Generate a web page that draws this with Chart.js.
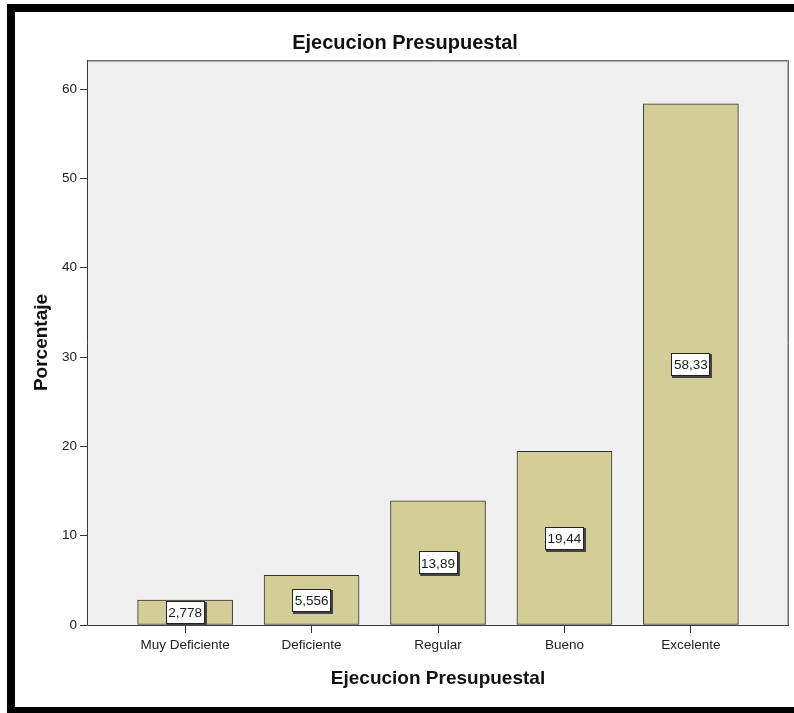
<!DOCTYPE html>
<html>
<head>
<meta charset="utf-8">
<script src="https://cdn.jsdelivr.net/npm/chart.js@4.4.1/dist/chart.umd.min.js"></script>
<style>
  html, body { margin: 0; padding: 0; background: #ffffff; }
  canvas { display: block; }
</style>
</head>
<body>
<canvas id="chart" width="794" height="713"></canvas>
<script>
// Ejecucion Presupuestal – distribution in percent
const categories = ['Muy Deficiente', 'Deficiente', 'Regular', 'Bueno', 'Excelente'];
const percentages = [2.778, 5.556, 13.89, 19.44, 58.33];
const yTicks = [0, 10, 20, 30, 40, 50, 60];

const FONT = '"Liberation Sans", Arial, sans-serif';
const chartTitle = 'Ejecucion Presupuestal';

// Plot background, outer frame and heading
const framePlugin = {
  id: 'frame',
  beforeDraw(chart) {
    const { ctx, chartArea: a } = chart;
    ctx.save();
    ctx.fillStyle = '#f0f0f0';
    ctx.fillRect(a.left, a.top, a.right - a.left, a.bottom - a.top);
    ctx.restore();
  },
  afterDatasetsDraw(chart) {
    const { ctx, chartArea: a } = chart;
    ctx.save();
    ctx.strokeStyle = '#6e6e6e';
    ctx.lineWidth = 1;
    ctx.beginPath();
    ctx.moveTo(a.left + 0.5, a.top + 0.5);
    ctx.lineTo(a.right - 0.5, a.top + 0.5);
    ctx.lineTo(a.right - 0.5, a.bottom);
    ctx.stroke();
    ctx.strokeStyle = '#b4b4b4';
    ctx.beginPath();
    ctx.moveTo(a.left + 1, a.top + 1.5);
    ctx.lineTo(a.right - 1.5, a.top + 1.5);
    ctx.lineTo(a.right - 1.5, a.bottom);
    ctx.stroke();
    ctx.strokeStyle = '#3a3a3a';
    ctx.beginPath();
    ctx.moveTo(a.left + 0.5, a.top);
    ctx.lineTo(a.left + 0.5, a.bottom + 0.5);
    ctx.lineTo(a.right, a.bottom + 0.5);
    ctx.stroke();
    ctx.restore();
  },
  afterDraw(chart) {
    const { ctx } = chart;
    ctx.save();
    ctx.fillStyle = '#111111';
    ctx.font = 'bold 20px ' + FONT;
    ctx.textAlign = 'center';
    ctx.textBaseline = 'middle';
    ctx.fillText(chartTitle, 405, 43);
    // heavy black border round the figure
    ctx.fillStyle = '#000000';
    ctx.fillRect(7, 4, 787, 8);
    ctx.fillRect(7, 4, 8, 709);
    ctx.fillRect(7, 707, 787, 6);
    ctx.restore();
  }
};

// Value boxes in the middle of each bar
const valueBoxPlugin = {
  id: 'valueBoxes',
  afterDatasetsDraw(chart) {
    const { ctx } = chart;
    const meta = chart.getDatasetMeta(0);
    const yScale = chart.scales.y;
    ctx.save();
    ctx.font = '13.5px ' + FONT;
    ctx.textAlign = 'center';
    ctx.textBaseline = 'middle';
    meta.data.forEach((bar, i) => {
      const v = percentages[i];
      const text = String(v).replace('.', ',');
      const cx = bar.x;
      const cy = (yScale.getPixelForValue(v) + yScale.getPixelForValue(0)) / 2;
      const w = Math.round(ctx.measureText(text).width + 5);
      const h = 23;
      const x0 = Math.round(cx - w / 2);
      const y0 = Math.round(cy - h / 2);
      ctx.fillStyle = '#444444';
      ctx.fillRect(x0 + 1, y0 + 1, w + 1, h + 1);
      ctx.fillStyle = '#ffffff';
      ctx.fillRect(x0, y0, w, h);
      ctx.strokeStyle = '#222222';
      ctx.lineWidth = 1;
      ctx.strokeRect(x0 + 0.5, y0 + 0.5, w - 1, h - 1);
      ctx.fillStyle = '#1a1a1a';
      ctx.fillText(text, cx, cy + 1);
    });
    ctx.restore();
  }
};

new Chart(document.getElementById('chart'), {
  type: 'bar',
  data: {
    datasets: [{
      data: percentages.map((v, i) => ({ x: i, y: v })),
      backgroundColor: '#d3ce97',
      borderColor: '#333333',
      borderWidth: 1,
      barThickness: 95,
      borderSkipped: false
    }]
  },
  options: {
    responsive: false,
    animation: false,
    events: [],
    layout: { padding: { top: 60, right: 5, left: 0, bottom: 0 } },
    plugins: {
      legend: { display: false },
      tooltip: { enabled: false },
      title: { display: false }
    },
    scales: {
      x: {
        type: 'linear',
        offset: false,
        min: -0.776,
        max: 4.776,
        afterBuildTicks(scale) {
          scale.ticks = categories.map((_, i) => ({ value: i }));
        },
        afterFit(scale) { scale.height = 88; },
        border: { display: false },
        grid: {
          offset: false,
          drawOnChartArea: false,
          drawTicks: true,
          tickLength: 8,
          tickColor: '#333333',
          tickWidth: 1
        },
        ticks: {
          autoSkip: false,
          maxRotation: 0,
          padding: 4,
          color: '#222222',
          font: { family: FONT, size: 13.5 },
          callback: (v) => categories[v] ?? ''
        },
        title: {
          display: true,
          text: 'Ejecucion Presupuestal',
          color: '#111111',
          font: { family: FONT, size: 19, weight: 'bold' },
          padding: { top: 0, bottom: 23 }
        }
      },
      y: {
        min: 0,
        max: 63.25,
        afterBuildTicks(scale) {
          scale.ticks = yTicks.map(v => ({ value: v }));
        },
        afterFit(scale) { scale.width = 87; },
        border: { display: false },
        grid: {
          drawOnChartArea: false,
          drawTicks: true,
          tickLength: 7,
          tickColor: '#333333',
          tickWidth: 1
        },
        ticks: {
          padding: 3,
          color: '#222222',
          font: { family: FONT, size: 13.5 }
        },
        title: {
          display: true,
          text: 'Porcentaje',
          color: '#111111',
          font: { family: FONT, size: 19, weight: 'bold' },
          padding: { top: 30, bottom: 0 }
        }
      }
    }
  },
  plugins: [framePlugin, valueBoxPlugin]
});
</script>
</body>
</html>
